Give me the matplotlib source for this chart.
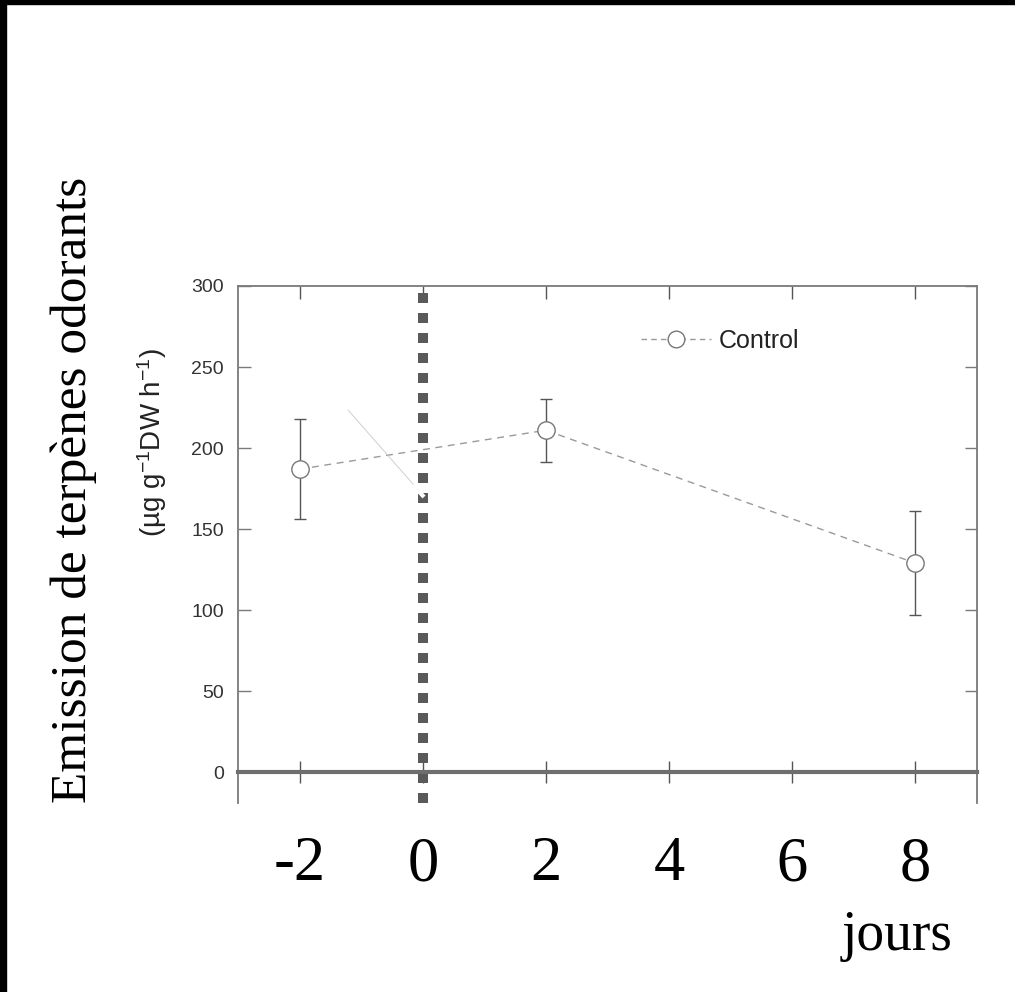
import matplotlib
matplotlib.use("Agg")
import matplotlib.pyplot as plt
from matplotlib.lines import Line2D
from matplotlib.patches import Rectangle

# Terpene emission of the control group, days relative to treatment
days = [-2, 2, 8]
emission = [187, 211, 129]
emission_err = [31, 19.5, 32]
treatment_day = 0

x_ticks = [-2, 0, 2, 4, 6, 8]
y_ticks = [0, 50, 100, 150, 200, 250, 300]
series_label = "Control"
y_title = "Emission de terpènes odorants"
y_units = r"(µg g$^{\mathregular{-1}}$DW h$^{\mathregular{-1}}$)"
x_title = "jours"

plt.rcParams["mathtext.fontset"] = "custom"
plt.rcParams["mathtext.rm"] = "Liberation Sans"
plt.rcParams["mathtext.it"] = "Liberation Sans:italic"
plt.rcParams["mathtext.bf"] = "Liberation Sans:bold"

W, H = 1015, 992
fig = plt.figure(figsize=(W / 100, H / 100), dpi=100)
fig.patch.set_facecolor("white")

# black frame strips on top and left edges
fig.patches.append(Rectangle((0, 1 - 4 / H), 1, 4 / H, transform=fig.transFigure,
                             color="black", zorder=0))
fig.patches.append(Rectangle((0, 0), 6 / W, 1, transform=fig.transFigure,
                             color="black", zorder=0))

ax_l, ax_r, ax_t, ax_b = 238, 977, 286, 803
ax = fig.add_axes([ax_l / W, 1 - ax_b / H, (ax_r - ax_l) / W, (ax_b - ax_t) / H])
ax.set_xlim(-3, 9)
ax.set_ylim(-19, 300)

spine_col = "#7a7a7a"
for side in ["left", "right", "top"]:
    ax.spines[side].set_color(spine_col)
    ax.spines[side].set_linewidth(1.3)
ax.spines["bottom"].set_position(("data", 0))
ax.spines["bottom"].set_color("#6e6e6e")
ax.spines["bottom"].set_linewidth(3.0)

ax.set_xticks(x_ticks)
ax.set_xticklabels([str(v) for v in x_ticks])
ax.set_yticks(y_ticks)
ax.set_yticklabels([str(v) for v in y_ticks])

ax.tick_params(axis="y", which="both", direction="in", length=9, width=1.0,
               color=spine_col, left=True, right=True, labelleft=True,
               labelsize=14, labelcolor="#333333", pad=10)
for lab in ax.get_yticklabels():
    lab.set_fontfamily("Liberation Sans")
ax.tick_params(axis="x", which="both", direction="inout", length=16, width=1.0,
               color="#555555", top=True, bottom=True, labelsize=45,
               labelcolor="black", pad=38)
for lab in ax.get_xticklabels():
    lab.set_fontfamily("Liberation Serif")
# top ticks point inward only
for t in ax.xaxis.get_major_ticks():
    t.tick2line.set_markersize(9)
    t.tick2line.set_marker(3)  # TICKDOWN

# treatment marker: heavy dotted vertical line
ax.axvline(treatment_day, color="#5a5a5a", linewidth=7.2,
           linestyle=(0, (1, 1)), dash_capstyle="butt", zorder=2)

# control series with error bars
ax.errorbar(days, emission, yerr=emission_err, fmt="none", ecolor="#555555",
            elinewidth=1.0, capsize=4, capthick=1.0, zorder=3)
ax.plot(days, emission, linestyle=(0, (5, 4)), color="#9a9a9a", linewidth=1.0,
        zorder=3)
ax.plot(days, emission, linestyle="none", marker="o", markersize=12.5,
        markerfacecolor="white", markeredgecolor="#777777", markeredgewidth=1.0,
        zorder=4)

handle = Line2D([], [], linestyle=(0, (4, 3)), color="#9a9a9a", linewidth=1.0,
                marker="o", markersize=12, markerfacecolor="white",
                markeredgecolor="#777777", markeredgewidth=1.0)
leg = ax.legend([handle], [series_label], loc="center left",
                bbox_to_anchor=(641 / W, 1 - 341 / H),
                bbox_transform=fig.transFigure, frameon=False,
                handlelength=2.8, handletextpad=0.3, borderpad=0,
                borderaxespad=0, prop={"family": "Liberation Sans", "size": 18})
for txt in leg.get_texts():
    txt.set_color("#222222")

# thin pointer stroke left over the plot
fig.add_artist(Line2D([348 / W, 420 / W], [1 - 410 / H, 1 - 492 / H],
                      color="#c8c8c8", linewidth=0.6, zorder=5))
fig.add_artist(Line2D([413 / W, 424 / W], [1 - 485 / H, 1 - 497 / H],
                      color="white", linewidth=3.0, solid_capstyle="butt", zorder=6))

# axis titles
fig.text(74 / W, 1 - 490 / H, y_title, rotation=90, ha="center", va="center",
         fontsize=37, family="Liberation Serif", color="black")
fig.text(152 / W, 1 - 442 / H, y_units, rotation=90, ha="center", va="center",
         fontsize=20, family="Liberation Sans", color="#222222")
fig.text(897 / W, 1 - 950 / H, x_title, ha="center", va="baseline",
         fontsize=40, family="Liberation Serif", color="black")

fig.savefig("out.png", dpi=100)
